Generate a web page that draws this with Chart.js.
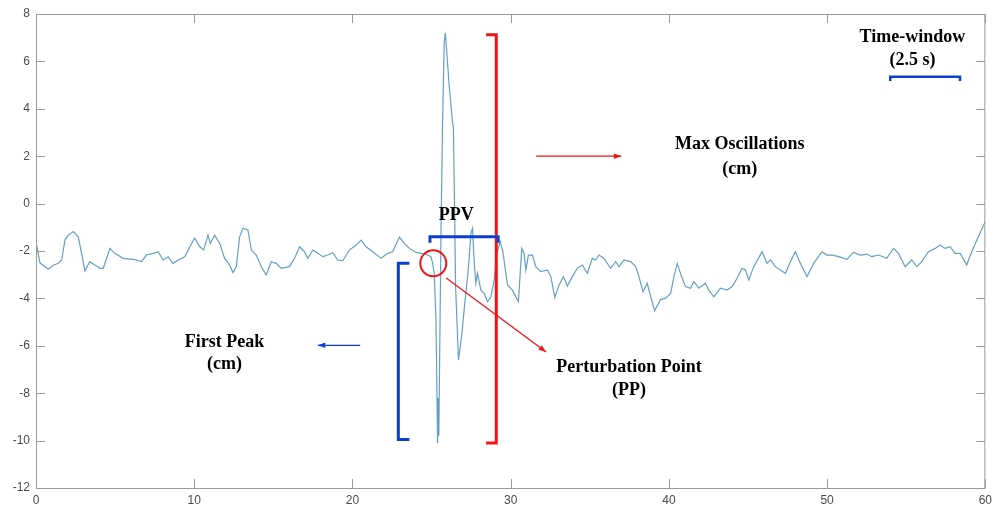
<!DOCTYPE html>
<html>
<head>
<meta charset="utf-8">
<script src="https://cdn.jsdelivr.net/npm/chart.js@4.4.1/dist/chart.umd.min.js"></script>
<style>
  html, body { margin: 0; padding: 0; background: #fff; }
  canvas { display: block; }
</style>
</head>
<body>
<canvas id="sway" width="997" height="508"></canvas>
<script>
// Time (s) and displacement (cm)
const timeS = [
  0, 0.25, 0.78, 1.09, 1.41, 1.62, 1.83, 2.04, 2.36, 2.67, 2.88, 3.09, 3.4, 3.72, 4.04, 4.25,
  4.67, 4.98, 5.51, 6.14, 6.67, 6.98, 7.4, 7.72, 8.03, 8.35, 8.66, 8.98, 9.4, 9.72, 10.03,
  10.35, 10.6, 10.87, 11.02, 11.29, 11.61, 11.92, 12.24, 12.45, 12.66, 12.87, 13.08, 13.39,
  13.61, 13.92, 14.24, 14.55, 14.87, 15.18, 15.5, 16.02, 16.34, 16.66, 16.97, 17.18, 17.5,
  17.81, 18.13, 18.44, 18.76, 19.07, 19.39, 19.81, 20.23, 20.55, 20.86, 21.28, 21.81, 22.23,
  22.54, 22.97, 23.28, 23.6, 24.02, 24.33, 24.75, 24.96, 25.07, 25.17, 25.28, 25.34, 25.38,
  25.42, 25.46, 25.52, 25.6, 25.7, 25.8, 25.87, 25.95, 26.12, 26.33, 26.38, 26.45, 26.52,
  26.7, 26.9, 27.1, 27.32, 27.49, 27.59, 27.7, 27.8, 27.9, 28.12, 28.33, 28.54, 28.75, 28.96,
  29.13, 29.34, 29.5, 29.8, 30.11, 30.49, 30.7, 30.85, 30.96, 31.12, 31.38, 31.59, 31.9,
  32.32, 32.54, 32.79, 33.06, 33.33, 33.58, 33.9, 34.21, 34.53, 34.85, 35.16, 35.37, 35.58,
  35.9, 36.32, 36.64, 36.85, 37.16, 37.58, 37.9, 38.11, 38.36, 38.63, 38.85, 39.1, 39.48,
  39.79, 40.11, 40.32, 40.53, 40.8, 41.05, 41.37, 41.58, 41.89, 42.31, 42.52, 42.84, 43.26,
  43.68, 44.0, 44.31, 44.62, 44.84, 45.05, 45.36, 45.89, 46.2, 46.42, 46.73, 47.36, 47.68,
  47.99, 48.31, 48.73, 49.15, 49.67, 49.99, 50.3, 50.73, 51.25, 51.67, 52.1, 52.51, 52.83,
  53.25, 53.77, 54.2, 54.51, 54.93, 55.35, 55.67, 55.98, 56.4, 56.83, 57.14, 57.46, 57.78,
  58.09, 58.41, 58.82, 59.14, 59.56, 60
];
const swayCm = [
  -1.6, -2.5, -2.77, -2.6, -2.52, -2.38, -1.54, -1.33, -1.18, -1.4, -2.1, -2.83, -2.45, -2.59,
  -2.73, -2.73, -1.89, -2.1, -2.31, -2.35, -2.45, -2.17, -2.1, -2.03, -2.38, -2.24, -2.52,
  -2.38, -2.24, -1.82, -1.46, -1.82, -1.96, -1.33, -1.68, -1.33, -1.68, -2.31, -2.59, -2.91,
  -2.66, -1.4, -1.04, -1.11, -1.96, -2.17, -2.66, -3.01, -2.45, -2.52, -2.73, -2.66, -2.31,
  -1.82, -2.03, -2.31, -1.96, -2.1, -2.24, -2.17, -2.07, -2.38, -2.41, -1.96, -1.75, -1.54,
  -1.82, -2.03, -2.31, -2.1, -2.03, -1.42, -1.68, -1.89, -2.06, -2.1, -2.17, -2.24, -2.52,
  -2.94, -4.91, -8.0, -10.1, -8.2, -9.8, -6.0, -1.0, 3.5, 6.8, 7.21, 6.5, 4.93, 3.39, 3.24,
  0.0, -3.5, -6.6, -5.6, -4.2, -2.8, -1.25, -1.04, -2.52, -3.36, -2.94, -3.65, -3.79, -4.14,
  -3.93, -3.22, -2.1, -1.6, -2.0, -3.43, -3.65, -4.14, -1.89, -2.1, -2.8, -2.17, -2.17, -2.66,
  -2.87, -2.8, -3.08, -3.96, -3.43, -3.08, -3.48, -3.08, -2.73, -2.59, -2.94, -2.31, -2.38,
  -2.17, -2.31, -2.73, -2.45, -2.66, -2.38, -2.45, -2.66, -3.08, -3.72, -3.36, -3.93, -4.52,
  -4.04, -4.0, -3.79, -3.08, -2.52, -3.08, -3.5, -3.57, -3.29, -3.57, -3.36, -3.65, -3.93,
  -3.57, -3.65, -3.5, -3.15, -2.73, -2.8, -3.22, -2.66, -2.03, -2.52, -2.38, -2.66, -2.94,
  -2.45, -2.03, -2.52, -3.08, -2.52, -2.03, -2.17, -2.17, -2.24, -2.35, -2.06, -2.17, -2.13,
  -2.24, -2.17, -2.31, -1.89, -2.1, -2.66, -2.38, -2.66, -2.45, -2.03, -1.89, -1.75, -1.89,
  -1.82, -2.1, -2.1, -2.59, -2.03, -1.4, -0.75
];
const xTicks = [0, 10, 20, 30, 40, 50, 60];
const yTicks = [-12, -10, -8, -6, -4, -2, 0, 2, 4, 6, 8];

const RED = '#f01414';
const BLUE = '#0c3fd2';
const AXIS = '#9a9a9a';

// overlay marks, placed in data units
const notes = [
  { lines: ['Max Oscillations', '(cm)'], x: 44.48, y: [2.5, 1.45] },
  { lines: ['Time-window', '(2.5 s)'], x: 55.39, y: [7.0, 6.03] },
  { lines: ['PPV'], x: 26.56, y: [-0.5] },
  { lines: ['Perturbation Point', '(PP)'], x: 37.48, y: [-6.92, -7.9] },
  { lines: ['First Peak', '(cm)'], x: 11.92, y: [-5.86, -6.8] }
];

function line(ctx, pts, color, w) {
  ctx.beginPath();
  ctx.strokeStyle = color;
  ctx.lineWidth = w;
  ctx.lineJoin = 'miter';
  pts.forEach((p, i) => i ? ctx.lineTo(p[0], p[1]) : ctx.moveTo(p[0], p[1]));
  ctx.stroke();
}

function arrow(ctx, x1, y1, x2, y2, color) {
  line(ctx, [[x1, y1], [x2, y2]], color, 1.3);
  const a = Math.atan2(y2 - y1, x2 - x1);
  ctx.beginPath();
  ctx.fillStyle = color;
  ctx.moveTo(x2, y2);
  ctx.lineTo(x2 - 8 * Math.cos(a - 0.35), y2 - 8 * Math.sin(a - 0.35));
  ctx.lineTo(x2 - 8 * Math.cos(a + 0.35), y2 - 8 * Math.sin(a + 0.35));
  ctx.closePath();
  ctx.fill();
}

const framePlugin = {
  id: 'frame',
  afterDatasetsDraw(chart) {
    const { ctx, chartArea: a, scales } = chart;
    const X = v => scales.x.getPixelForValue(v);
    const Y = v => scales.y.getPixelForValue(v);
    ctx.save();

    // box + inward ticks, matlab style
    ctx.strokeStyle = AXIS;
    ctx.lineWidth = 1;
    ctx.strokeRect(a.left + 0.5, a.top + 0.5, a.right - a.left - 1, a.bottom - a.top);
    ctx.beginPath();
    xTicks.forEach(t => {
      const px = Math.round(X(t)) + 0.5;
      ctx.moveTo(px, a.bottom); ctx.lineTo(px, a.bottom - 9);
      ctx.moveTo(px, a.top); ctx.lineTo(px, a.top + 9);
    });
    yTicks.forEach(t => {
      const py = Math.round(Y(t)) + 0.5;
      ctx.moveTo(a.left, py); ctx.lineTo(a.left + 9, py);
      ctx.moveTo(a.right, py); ctx.lineTo(a.right - 9, py);
    });
    ctx.stroke();

    // Max Oscillations bracket and arrow
    line(ctx, [[X(28.45), Y(7.12)], [X(29.09), Y(7.12)], [X(29.09), Y(-10.1)], [X(28.45), Y(-10.1)]], RED, 3);
    arrow(ctx, X(31.61), Y(2.0), X(37.0), Y(2.0), RED);

    // time window bracket
    line(ctx, [[X(53.99), Y(5.17)], [X(53.99), Y(5.35)], [X(58.4), Y(5.35)], [X(58.4), Y(5.17)]], BLUE, 2.5);

    // PPV bracket
    line(ctx, [[X(24.9), Y(-1.65)], [X(24.9), Y(-1.4)], [X(29.21), Y(-1.4)], [X(29.21), Y(-1.65)]], BLUE, 3);

    // perturbation point circle + pointer
    ctx.beginPath();
    ctx.strokeStyle = RED;
    ctx.lineWidth = 2;
    ctx.arc(X(25.11), Y(-2.52), 13, 0, Math.PI * 2);
    ctx.stroke();
    arrow(ctx, X(25.93), Y(-3.14), X(32.24), Y(-6.26), RED);

    // first peak bracket and arrow
    line(ctx, [[X(23.6), Y(-2.52)], [X(22.9), Y(-2.52)], [X(22.9), Y(-9.95)], [X(23.6), Y(-9.95)]], BLUE, 3);
    arrow(ctx, X(20.49), Y(-5.98), X(17.81), Y(-5.98), BLUE);

    ctx.fillStyle = '#000';
    ctx.font = 'bold 18px "Liberation Serif", "Times New Roman", serif';
    ctx.textAlign = 'center';
    ctx.textBaseline = 'middle';
    notes.forEach(n => n.lines.forEach((s, i) => ctx.fillText(s, X(n.x), Y(n.y[i]))));
    ctx.restore();
  }
};

new Chart(document.getElementById('sway'), {
  type: 'scatter',
  data: {
    datasets: [{
      data: timeS.map((t, i) => ({ x: t, y: swayCm[i] })),
      showLine: true,
      borderColor: '#64a0c4',
      borderWidth: 1.2,
      pointRadius: 0,
      tension: 0
    }]
  },
  options: {
    responsive: false,
    animation: false,
    devicePixelRatio: 1,
    layout: { padding: { top: 14, right: 10, left: 0, bottom: 0 } },
    plugins: { legend: { display: false }, tooltip: { enabled: false } },
    scales: {
      x: {
        type: 'linear', min: 0, max: 60,
        afterBuildTicks: s => { s.ticks = xTicks.map(v => ({ value: v })); },
        afterFit: s => { s.height = 20; },
        grid: { display: false, drawTicks: false },
        border: { display: false },
        ticks: { color: '#4a4a4a', padding: 5, font: { family: 'Liberation Sans', size: 12 } }
      },
      y: {
        min: -12, max: 8,
        afterBuildTicks: s => { s.ticks = yTicks.map(v => ({ value: v })); },
        afterFit: s => { s.width = 36; },
        grid: { display: false, drawTicks: false },
        border: { display: false },
        ticks: { color: '#4a4a4a', padding: 6, font: { family: 'Liberation Sans', size: 12 } }
      }
    }
  },
  plugins: [framePlugin]
});
</script>
</body>
</html>
